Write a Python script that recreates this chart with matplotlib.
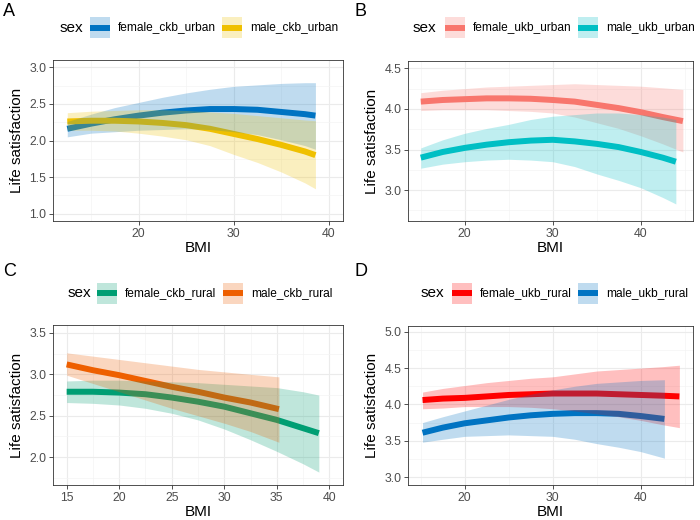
import matplotlib
matplotlib.use('Agg')
import matplotlib.pyplot as plt
from matplotlib.patches import Rectangle
from matplotlib.lines import Line2D

plt.rcParams['font.family'] = ['Liberation Sans', 'DejaVu Sans']

# ── Panel A: CKB urban ──
a_f_bmi = [12.5, 15, 17.5, 20, 22.5, 25, 27.5, 30, 32.5, 35, 37.5, 38.6]
a_f_fit = [2.16, 2.23, 2.29, 2.34, 2.38, 2.41, 2.43, 2.43, 2.42, 2.39, 2.36, 2.34]
a_f_low = [2.05, 2.10, 2.12, 2.14, 2.15, 2.16, 2.15, 2.12, 2.08, 2.01, 1.93, 1.88]
a_f_upp = [2.26, 2.36, 2.45, 2.52, 2.59, 2.65, 2.70, 2.74, 2.76, 2.78, 2.79, 2.79]
a_m_bmi = [12.5, 15, 17.5, 20, 22.5, 25, 27.5, 30, 32.5, 35, 37.5, 38.6]
a_m_fit = [2.26, 2.27, 2.27, 2.26, 2.24, 2.21, 2.16, 2.09, 2.02, 1.94, 1.85, 1.80]
a_m_low = [2.14, 2.14, 2.13, 2.10, 2.06, 2.01, 1.93, 1.81, 1.70, 1.57, 1.42, 1.34]
a_m_upp = [2.38, 2.40, 2.41, 2.42, 2.42, 2.41, 2.39, 2.37, 2.34, 2.31, 2.28, 2.27]

# ── Panel B: UKB urban ──
b_f_bmi = [15, 17.5, 20, 22.5, 25, 27.5, 30, 32.5, 35, 37.5, 40, 42.5, 44.8]
b_f_fit = [4.09, 4.11, 4.12, 4.13, 4.13, 4.125, 4.11, 4.09, 4.05, 4.01, 3.96, 3.90, 3.85]
b_f_low = [3.98, 3.99, 3.99, 3.99, 3.98, 3.97, 3.95, 3.90, 3.83, 3.76, 3.67, 3.57, 3.47]
b_f_upp = [4.20, 4.23, 4.25, 4.27, 4.28, 4.29, 4.30, 4.31, 4.30, 4.29, 4.28, 4.26, 4.24]
b_m_bmi = [15, 17.5, 20, 22.5, 25, 27.5, 30, 32.5, 35, 37.5, 40, 42.5, 44]
b_m_fit = [3.40, 3.47, 3.52, 3.56, 3.59, 3.61, 3.62, 3.60, 3.57, 3.53, 3.47, 3.40, 3.35]
b_m_low = [3.27, 3.32, 3.35, 3.37, 3.38, 3.37, 3.35, 3.29, 3.20, 3.12, 3.03, 2.91, 2.83]
b_m_upp = [3.52, 3.62, 3.70, 3.76, 3.81, 3.87, 3.91, 3.93, 3.95, 3.95, 3.93, 3.90, 3.87]

# ── Panel C: CKB rural ──
c_f_bmi = [15, 17.5, 20, 22.5, 25, 27.5, 30, 32.5, 35, 37.5, 39]
c_f_fit = [2.79, 2.79, 2.78, 2.76, 2.72, 2.67, 2.61, 2.53, 2.45, 2.35, 2.29]
c_f_low = [2.66, 2.65, 2.63, 2.59, 2.53, 2.45, 2.34, 2.21, 2.07, 1.92, 1.82]
c_f_upp = [2.92, 2.93, 2.93, 2.92, 2.91, 2.90, 2.88, 2.86, 2.84, 2.79, 2.75]
c_m_bmi = [15, 17.5, 20, 22.5, 25, 27.5, 30, 32.5, 35.2]
c_m_fit = [3.12, 3.05, 2.99, 2.92, 2.85, 2.79, 2.72, 2.66, 2.58]
c_m_low = [2.99, 2.89, 2.79, 2.69, 2.59, 2.50, 2.41, 2.31, 2.18]
c_m_upp = [3.26, 3.22, 3.18, 3.14, 3.10, 3.06, 3.03, 3.00, 2.97]

# ── Panel D: UKB rural ──
d_f_bmi = [15.2, 17.5, 20, 22.5, 25, 27.5, 30, 32.5, 35, 37.5, 40, 42.5, 44.4]
d_f_fit = [4.06, 4.08, 4.09, 4.11, 4.13, 4.14, 4.15, 4.15, 4.15, 4.14, 4.13, 4.12, 4.11]
d_f_low = [3.94, 3.95, 3.97, 3.97, 3.97, 3.96, 3.94, 3.91, 3.87, 3.83, 3.78, 3.72, 3.68]
d_f_upp = [4.17, 4.22, 4.26, 4.30, 4.33, 4.36, 4.38, 4.42, 4.46, 4.48, 4.50, 4.52, 4.54]
d_m_bmi = [15.2, 17.5, 20, 22.5, 25, 27.5, 30, 32.5, 35, 37.5, 40, 42.7]
d_m_fit = [3.61, 3.68, 3.74, 3.78, 3.82, 3.85, 3.87, 3.88, 3.88, 3.87, 3.84, 3.80]
d_m_low = [3.48, 3.52, 3.56, 3.57, 3.58, 3.57, 3.56, 3.52, 3.46, 3.41, 3.35, 3.26]
d_m_upp = [3.75, 3.83, 3.91, 3.99, 4.07, 4.14, 4.20, 4.25, 4.29, 4.31, 4.33, 4.34]

W, H = 700, 520
RIB_ALPHA = 0.25
LW = 4.3


def fx(x):
    return x / W


def fy(y):
    return 1 - y / H


def draw_panel(fig, rect, series, xlim, ylim, xmajor, xminor, ymajor, yminor):
    l, t, r, b = rect
    ax = fig.add_axes([fx(l), fy(b), fx(r - l), (b - t) / H])
    # lines first, ribbons on top (as in the original ggplot)
    for bmi, fit, low, upp, color, label in series:
        ax.plot(bmi, fit, color=color, lw=LW, solid_capstyle='butt', zorder=3)
    for bmi, fit, low, upp, color, label in series:
        ax.fill_between(bmi, low, upp, color=color, alpha=RIB_ALPHA, lw=0, zorder=4)
    ax.set_xlim(*xlim)
    ax.set_ylim(*ylim)
    ax.set_xticks(xmajor)
    ax.set_xticks(xminor, minor=True)
    ax.set_yticks(ymajor)
    ax.set_yticks(yminor, minor=True)
    ax.set_yticklabels([f'{v:.1f}' for v in ymajor])
    ax.grid(True, which='major', color='#EBEBEB', lw=0.8, zorder=0)
    ax.grid(True, which='minor', color='#F4F4F4', lw=0.5, zorder=0)
    ax.set_axisbelow(True)
    ax.tick_params(which='major', length=2.75, width=0.6, color='#333333',
                   labelsize=8.8, labelcolor='#4D4D4D', pad=2)
    ax.tick_params(which='minor', length=0)
    for sp in ax.spines.values():
        sp.set_color('#333333')
        sp.set_linewidth(0.6)
    ax.set_xlabel('BMI', fontsize=11, labelpad=1)
    ax.set_ylabel('Life satisfaction', fontsize=11, labelpad=4)
    return ax


def draw_legend(fig, sex_x, yc, keys, series):
    fig.text(fx(sex_x), fy(yc), 'sex', fontsize=11, va='center', ha='left')
    for kx, s in zip(keys, series):
        color, label = s[4], s[5]
        fig.patches.append(Rectangle((fx(kx), fy(yc + 10.5)), fx(20), 21 / H,
                                     transform=fig.transFigure, facecolor=color,
                                     alpha=RIB_ALPHA, lw=0))
        fig.lines.append(Line2D([fx(kx), fx(kx + 20)], [fy(yc), fy(yc)],
                                transform=fig.transFigure, color=color, lw=LW,
                                solid_capstyle='butt'))
        fig.text(fx(kx + 28), fy(yc), label, fontsize=8.6, va='center', ha='left')


fig = plt.figure(figsize=(7, 5.2), dpi=100)

ser_a = [(a_f_bmi, a_f_fit, a_f_low, a_f_upp, '#0073C2', 'female_ckb_urban'),
         (a_m_bmi, a_m_fit, a_m_low, a_m_upp, '#EFC000', 'male_ckb_urban')]
ser_b = [(b_f_bmi, b_f_fit, b_f_low, b_f_upp, '#F8766D', 'female_ukb_urban'),
         (b_m_bmi, b_m_fit, b_m_low, b_m_upp, '#00BFC4', 'male_ukb_urban')]
ser_c = [(c_f_bmi, c_f_fit, c_f_low, c_f_upp, '#009E73', 'female_ckb_rural'),
         (c_m_bmi, c_m_fit, c_m_low, c_m_upp, '#EE5F00', 'male_ckb_rural')]
ser_d = [(d_f_bmi, d_f_fit, d_f_low, d_f_upp, '#FF0000', 'female_ukb_rural'),
         (d_m_bmi, d_m_fit, d_m_low, d_m_upp, '#0073C2', 'male_ukb_rural')]

draw_panel(fig, (53, 60, 343, 221), ser_a, (11.0, 41.5), (0.9, 3.1),
           [20, 30, 40], [15, 25, 35], [1.0, 1.5, 2.0, 2.5, 3.0],
           [1.25, 1.75, 2.25, 2.75])
draw_panel(fig, (408, 61, 693, 221), ser_b, (13.55, 45.95), (2.62, 4.59),
           [20, 30, 40], [15, 25, 35, 45], [3.0, 3.5, 4.0, 4.5],
           [2.75, 3.25, 3.75, 4.25])
draw_panel(fig, (53, 325, 343, 485), ser_c, (13.7, 41.3), (1.664, 3.596),
           [15, 20, 25, 30, 35, 40], [17.5, 22.5, 27.5, 32.5, 37.5],
           [2.0, 2.5, 3.0, 3.5], [1.75, 2.25, 2.75, 3.25])
draw_panel(fig, (408, 326, 693, 485), ser_d, (13.55, 45.95), (2.89, 5.08),
           [20, 30, 40], [15, 25, 35, 45], [3.0, 3.5, 4.0, 4.5, 5.0],
           [3.25, 3.75, 4.25, 4.75])

draw_legend(fig, 60, 27.5, [90, 222], ser_a)
draw_legend(fig, 413, 27.5, [445, 578], ser_b)
draw_legend(fig, 68, 293, [97, 223], ser_c)
draw_legend(fig, 421, 293, [452, 578], ser_d)

for lab, x, y in [('A', 3, 11), ('B', 355, 11), ('C', 3, 272), ('D', 355, 272)]:
    fig.text(fx(x), fy(y), lab, fontsize=13, va='center', ha='left')

fig.savefig('out.png', dpi=100)
